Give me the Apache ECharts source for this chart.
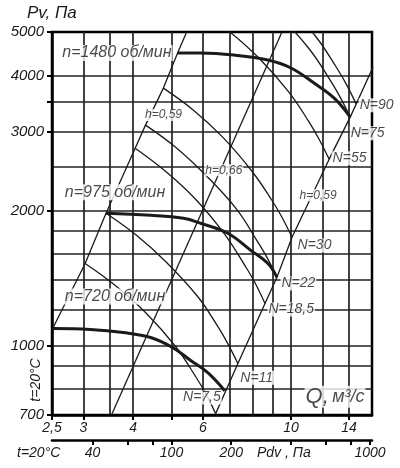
<!DOCTYPE html>
<html>
<head>
<meta charset="utf-8">
<script src="https://cdn.jsdelivr.net/npm/echarts@6/dist/echarts.min.js"></script>
<style>
html, body { margin: 0; background: #fff; }
#chart { width: 400px; height: 468px; }
</style>
</head>
<body>
<div id="chart"></div>
<script>
// оси: Q, м3/с (лог) и Pv, Па (лог)
var qTicks = [2.5, 3, 4, 5, 6, 10, 14];
var qLabels = [2.5, 3, 4, 6, 10, 14];
var qGrid = [3, 3.5, 4, 5, 6, 7, 8, 9, 10, 12, 14];
var pTicks = [700, 1000, 2000, 3000, 3500, 4000, 5000];
var pLabels = [700, 1000, 2000, 3000, 4000, 5000];
var pGrid = [800, 900, 1000, 1200, 1400, 1600, 1800, 2000, 2500, 3000, 3500, 4000];
var pdvTicks = [40, 60, 80, 100, 200, 400, 600, 800, 1000];
var pdvLabels = [40, 100, 200, 1000];

// характеристики вентилятора [Q, Pv]
var n1480 = [[5.18, 4488], [5.92, 4488], [7.18, 4442], [8.75, 4329], [10.0, 4156], [11.43, 3847], [12.85, 3561], [14.10, 3230]];
var n975 = [[3.42, 1972], [4.43, 1952], [5.36, 1922], [5.92, 1873], [6.93, 1779], [7.92, 1630], [8.75, 1524], [9.22, 1419]];
var n720 = [[2.51, 1091], [3.12, 1086], [3.78, 1069], [4.43, 1042], [5.03, 990], [5.59, 926], [6.17, 870], [6.81, 793]];

// линии КПД
var h59left = [[2.51, 1091], [3.03, 1524], [3.42, 1972], [4.05, 2754], [4.30, 3100], [4.77, 3749], [5.18, 4488], [5.46, 5000]];
var h66 = [[3.53, 700], [9.49, 5000]];
var h59right = [[6.46, 705], [7.35, 912], [8.60, 1241], [9.22, 1419], [10.06, 1743], [12.48, 2603], [14.10, 3230], [16.1, 4178]];

// линии мощности N, кВт
var nw7_5 = [[3.03, 1524], [3.61, 1361], [4.30, 1185], [5.12, 995], [5.75, 853], [6.10, 781], [6.46, 705]];
var nw11 = [[3.42, 1972], [4.08, 1761], [4.86, 1532], [5.82, 1286], [6.54, 1103], [6.93, 1010], [7.35, 912]];
var nw18_5 = [[4.05, 2754], [4.83, 2446], [5.75, 2119], [6.81, 1770], [7.65, 1509], [8.11, 1382], [8.60, 1241]];
var nw22 = [[4.30, 3100], [5.12, 2768], [6.10, 2397], [7.30, 2012], [8.20, 1716], [8.70, 1572], [9.22, 1419]];
var nw30 = [[4.77, 3749], [5.68, 3348], [6.73, 2914], [8.01, 2434], [8.95, 2108], [9.49, 1932], [10.06, 1743]];
var nw55 = [[5.85, 5628], [6.97, 5024], [8.30, 4374], [9.88, 3673], [11.11, 3148], [11.77, 2884], [12.48, 2603]];
var nw75 = [[6.61, 6984], [7.88, 6238], [9.38, 5429], [11.17, 4559], [12.55, 3906], [13.30, 3580], [14.10, 3230]];
var nw90 = [[6.85, 7466], [8.16, 6670], [9.71, 5804], [11.57, 4873], [13.00, 4178], [13.78, 3827], [14.60, 3453]];

var FONT = '"Liberation Sans", Arial, sans-serif';
var INK = '#1a1a1a';

var myChart = echarts.init(document.getElementById('chart'));

function line(data, width, smooth) {
    return {
        type: 'line',
        data: data,
        symbol: 'none',
        smooth: smooth,
        silent: true,
        lineStyle: { color: INK, width: width },
        z: width > 2 ? 4 : 3
    };
}

// без разделителя тысяч, дробная часть через запятую
function plain(v) {
    return String(v).replace('.', ',');
}

// подписи на поле графика (привязаны к осям)
var notes = [
    [2.63, 4488, 'n=1480 об/мин', 16],
    [2.67, 2196, 'n=975 об/мин', 16],
    [2.67, 1286, 'n=720 об/мин', 16],
    [4.25, 3264, 'h=0,59', 12],
    [6.03, 2459, 'h=0,66', 12],
    [10.42, 2163, 'h=0,59', 12],
    [14.77, 3435, 'N=90', 14],
    [14.02, 2974, 'N=75', 14],
    [12.62, 2616, 'N=55', 14],
    [10.30, 1672, 'N=30', 14],
    [9.38, 1375, 'N=22', 14],
    [8.70, 1203, 'N=18,5', 14],
    [7.39, 848, 'N=11', 14],
    [5.30, 766, 'N=7,5', 14]
];

var noteData = notes.map(function (n) {
    return {
        value: [n[0], n[1]],
        label: { formatter: n[2], fontSize: n[3] }
    };
});
noteData.push({
    value: [10.79, 769],
    label: { formatter: '{a|Q,} {b|м³/с}' }
});

var option = {
    animation: false,
    backgroundColor: '#fff',
    grid: {
        left: 52, right: 28, top: 32, bottom: 53,
        show: true, borderColor: '#000', borderWidth: 2.5, backgroundColor: '#fff'
    },
    xAxis: [{
        type: 'log', min: 2.5, max: 16, position: 'bottom',
        axisLine: { onZero: false, lineStyle: { color: '#000', width: 2.5 } },
        axisTick: { customValues: qTicks, length: 5, lineStyle: { color: '#000', width: 2 } },
        axisLabel: {
            customValues: qLabels, margin: 6, color: INK, fontSize: 14, fontStyle: 'italic', fontFamily: FONT,
            formatter: plain
        },
        splitLine: { show: false }
    }, {
        type: 'log', min: 2.5, max: 16, position: 'top',
        axisLine: { show: false },
        axisTick: { show: false, customValues: qGrid },
        axisLabel: { show: false },
        splitLine: { show: true, lineStyle: { color: '#222', width: 1.7 } }
    }, {
        type: 'log', min: 25, max: 1024, position: 'bottom', offset: 25,
        axisLine: { onZero: false, lineStyle: { color: '#000', width: 2.5 } },
        axisTick: { customValues: pdvTicks, length: 5, lineStyle: { color: '#000', width: 2 } },
        axisLabel: {
            customValues: pdvLabels, margin: 6, color: INK, fontSize: 14, fontStyle: 'italic', fontFamily: FONT,
            formatter: plain
        },
        splitLine: { show: false }
    }],
    yAxis: [{
        type: 'log', min: 700, max: 5000, position: 'left',
        axisLine: { onZero: false, lineStyle: { color: '#000', width: 2.5 } },
        axisTick: { customValues: pTicks, length: 5, lineStyle: { color: '#000', width: 2 } },
        axisLabel: {
            customValues: pLabels, margin: 8, color: INK, fontSize: 15, fontStyle: 'italic', fontFamily: FONT,
            formatter: plain
        },
        splitLine: { show: false }
    }, {
        type: 'log', min: 700, max: 5000, position: 'right',
        axisLine: { show: false },
        axisTick: { show: false, customValues: pGrid },
        axisLabel: { show: false },
        splitLine: { show: true, lineStyle: { color: '#222', width: 1.7 } }
    }],
    graphic: [
        { type: 'text', left: 27, top: 5, style: { text: 'Pv, Па', font: 'italic 17px ' + FONT, fill: INK } },
        { type: 'text', x: 36, y: 380, rotation: Math.PI / 2,
          style: { text: 't=20°C', font: 'italic 14px ' + FONT, fill: INK, align: 'center', verticalAlign: 'middle' } },
        { type: 'text', x: 17, y: 453, style: { text: 't=20°C', font: 'italic 14px ' + FONT, fill: INK, verticalAlign: 'middle' } },
        { type: 'text', x: 257, y: 453, style: { text: 'Pdv , Па', font: 'italic 14px ' + FONT, fill: INK, verticalAlign: 'middle' } }
    ],
    series: [
        line(h59left, 1.3, false),
        line(h66, 1.3, false),
        line(h59right, 1.3, false),
        line(nw7_5, 1.3, 0.4),
        line(nw11, 1.3, 0.4),
        line(nw18_5, 1.3, 0.4),
        line(nw22, 1.3, 0.4),
        line(nw30, 1.3, 0.4),
        line(nw55, 1.3, 0.4),
        line(nw75, 1.3, 0.4),
        line(nw90, 1.3, 0.4),
        line(n1480, 3, 0.4),
        line(n975, 3, 0.4),
        line(n720, 3, 0.4),
        {
            type: 'scatter',
            data: noteData,
            symbolSize: 1,
            itemStyle: { color: 'rgba(0,0,0,0)' },
            silent: true,
            z: 10,
            label: {
                show: true, position: 'right', distance: 0,
                color: INK, fontStyle: 'italic', fontFamily: FONT,
                backgroundColor: '#fff', padding: [0, 1],
                rich: {
                    a: { fontSize: 22, fontStyle: 'italic', fontFamily: FONT, color: INK },
                    b: { fontSize: 18, fontStyle: 'italic', fontFamily: FONT, color: INK }
                }
            }
        }
    ]
};

myChart.setOption(option);
</script>
</body>
</html>
